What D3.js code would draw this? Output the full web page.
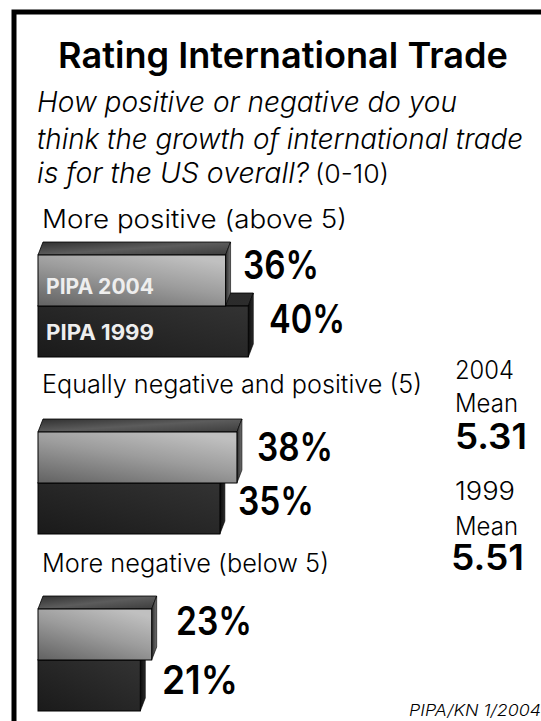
<!DOCTYPE html>
<html>
<head>
<meta charset="utf-8">
<script src="https://cdn.jsdelivr.net/npm/d3@7/dist/d3.min.js"></script>
<style>
html,body{margin:0;padding:0;background:#fff;overflow:hidden}
svg{display:block}
text{font-family:Inter,"Noto Sans",sans-serif;fill:#000}
</style>
</head>
<body>
<svg id="c" width="541" height="721"></svg>
<script>
const categories = ["More positive (above 5)", "Equally negative and positive (5)", "More negative (below 5)"];
const seriesNames = ["PIPA 2004", "PIPA 1999"];
const values2004 = [36, 38, 23];
const values1999 = [40, 35, 21];
const questionLines = ["How positive or negative do you", "think the growth of international trade", "is for the US overall?"];
const means = [["2004", "Mean", "5.31"], ["1999", "Mean", "5.51"]];

const svg = d3.select("#c");
const defs = svg.append("defs");
function grad(id, x1, y1, x2, y2, stops) {
  const g = defs.append("linearGradient").attr("id", id)
    .attr("x1", x1).attr("y1", y1).attr("x2", x2).attr("y2", y2);
  stops.forEach(s => g.append("stop").attr("offset", s[0]).attr("stop-color", s[1]));
}
grad("lightFront", 0.1, 1, 0.75, 0, [[0, "#666666"], [0.55, "#9c9c9c"], [1, "#c0c0c0"]]);
grad("lightTop", 0, 0, 1, 1, [[0, "#303030"], [0.5, "#5c5c5c"], [1, "#3c3c3c"]]);
grad("lightSide", 0, 0, 1, 0, [[0, "#2c2c2c"], [1, "#707070"]]);
grad("darkFront", 0, 1, 1, 0, [[0, "#1a1a1a"], [1, "#333333"]]);
grad("darkTop", 0, 0, 1, 0, [[0, "#262626"], [1, "#2c2c2c"]]);
grad("darkSide", 0, 0, 1, 0, [[0, "#0c0c0c"], [1, "#2a2a2a"]]);

svg.append("rect").attr("x", 14).attr("y", 12).attr("width", 540).attr("height", 720)
  .attr("fill", "none").attr("stroke", "#000").attr("stroke-width", 5);

const x = d3.scaleLinear().domain([3, 40]).range([38, 248.3]);
const yGroup = d3.scalePoint().domain(categories).range([255, 609]);
const ySeries = d3.scalePoint().domain(seriesNames).range([0, 51]);
const barH = 51, dx = 5, dy = 13;

const rows = [];
categories.forEach((c, i) => {
  rows.push({c, s: seriesNames[1], v: values1999[i], kind: "dark"});
  rows.push({c, s: seriesNames[0], v: values2004[i], kind: "light"});
});

const bars = svg.append("g").selectAll("g").data(rows).join("g")
  .attr("transform", d => `translate(0,${yGroup(d.c) + ySeries(d.s)})`);

bars.append("path")
  .attr("d", d => `M${x.range()[0]},0L${x.range()[0] + dx},${-dy}L${x(d.v) + dx},${-dy}L${x(d.v)},0Z`)
  .attr("fill", d => `url(#${d.kind}Top)`)
  .attr("stroke", "#000").attr("stroke-width", 0.8);
bars.append("path")
  .attr("d", d => `M${x(d.v)},0L${x(d.v) + dx},${-dy}L${x(d.v) + dx},${barH - dy}L${x(d.v)},${barH}Z`)
  .attr("fill", d => `url(#${d.kind}Side)`)
  .attr("stroke", "#000").attr("stroke-width", 0.6);
bars.append("rect")
  .attr("x", x.range()[0]).attr("y", 0)
  .attr("width", d => x(d.v) - x.range()[0]).attr("height", barH)
  .attr("fill", d => `url(#${d.kind}Front)`)
  .attr("stroke", "#000").attr("stroke-width", 1);

function label(t, px, py, size, opts = {}) {
  const e = svg.append("text").attr("x", px).attr("y", py).attr("font-size", size).text(t);
  if (opts.weight) e.attr("font-weight", opts.weight);
  if (opts.italic) e.attr("font-style", "italic");
  if (opts.fill) e.style("fill", opts.fill);
  if (opts.len) e.attr("textLength", opts.len).attr("lengthAdjust", "spacingAndGlyphs");
  return e;
}

label("Rating International Trade", 58, 68, 36, {weight: 600, len: 450});
label(questionLines[0], 37, 112, 28, {italic: true, weight: 300, len: 420});
label(questionLines[1], 37, 149, 28, {italic: true, weight: 300, len: 486});
label(questionLines[2], 37, 183, 28, {italic: true, weight: 300, len: 272});
label("(0-10)", 315, 183, 25, {weight: 300, len: 74});

const catY = [228, 393, 572];
const catW = [305, 380, 287];
categories.forEach((c, i) => label(c, 42, catY[i], 25, {weight: 300, len: catW[i]}));

label(seriesNames[0], 46, 294, 21, {weight: 700, fill: "#eeeeee", len: 108});
label(seriesNames[1], 46, 340, 21, {weight: 700, fill: "#eeeeee", len: 108});

const pct = d3.format(".0f");
const pctPos = {"36": [243, 279], "40": [269, 333], "38": [257, 461], "35": [238, 515], "23": [176, 635], "21": [162, 694]};
rows.forEach(r => label(pct(r.v) + "%", pctPos[r.v][0], pctPos[r.v][1], 39, {weight: 600, len: 76}));

label(means[0][0], 455, 379, 25, {weight: 300, len: 59});
label(means[0][1], 455, 412, 25, {weight: 300, len: 63});
label(means[0][2], 455, 449, 35, {weight: 600, len: 72});
label(means[1][0], 455, 500, 25, {weight: 300, len: 60});
label(means[1][1], 455, 535, 25, {weight: 300, len: 63});
label(means[1][2], 451, 570, 35, {weight: 600, len: 73});

label("PIPA/KN 1/2004", 409, 716, 16, {italic: true, weight: 300, len: 132});
</script>
</body>
</html>
